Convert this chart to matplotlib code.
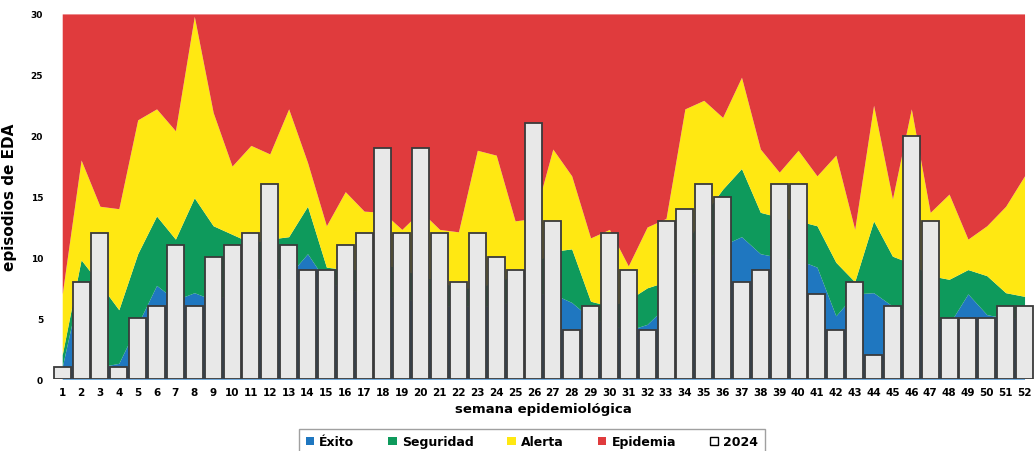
import matplotlib
matplotlib.use("Agg")
import matplotlib.pyplot as plt
from matplotlib.patches import Patch
import numpy as np

weeks = list(range(1, 53))

# Upper limit of each zone of the endemic channel
exito = [1.0, 8.0, 1.0, 1.3, 4.5, 7.7, 6.5, 7.1, 6.5, 7.0, 7.5, 8.0, 8.5, 10.3, 8.0,
         7.5, 7.0, 7.0, 6.5, 6.5, 6.0, 6.0, 6.0, 6.0, 6.5, 7.0, 7.0, 6.3, 5.0, 4.5,
         4.0, 4.5, 6.0, 8.0, 9.5, 11.0, 11.7, 10.3, 10.0, 9.8, 9.2, 5.2, 7.0, 7.1,
         6.0, 5.5, 5.0, 4.5, 7.0, 5.3, 5.0, 5.0]
seguridad = [2.0, 9.8, 7.8, 5.7, 10.3, 13.4, 11.5, 14.9, 12.6, 11.9, 11.2, 11.5, 11.7,
             14.2, 9.2, 9.0, 9.0, 9.5, 9.0, 8.5, 8.0, 7.5, 7.5, 8.0, 8.5, 9.5, 10.5,
             10.7, 6.4, 6.0, 6.5, 7.5, 8.0, 11.0, 13.5, 15.6, 17.3, 13.7, 13.3, 13.0,
             12.6, 9.6, 8.0, 13.0, 10.1, 9.5, 8.5, 8.2, 9.0, 8.5, 7.1, 6.8]
alerta = [7.0, 18.0, 14.2, 14.0, 21.3, 22.2, 20.4, 29.8, 21.9, 17.5, 19.2, 18.5, 22.2,
          17.8, 12.6, 15.4, 13.8, 13.7, 12.3, 13.8, 12.3, 12.1, 18.8, 18.4, 13.0, 13.2,
          18.9, 16.7, 11.6, 12.3, 9.3, 12.5, 13.2, 22.2, 22.9, 21.5, 24.8, 18.9, 17.0,
          18.8, 16.7, 18.4, 12.3, 22.5, 14.8, 22.2, 13.7, 15.2, 11.5, 12.6, 14.2, 16.7]
epidemia_top = 30

casos_2024 = [1, 8, 12, 1, 5, 6, 11, 6, 10, 11, 12, 16, 11, 9, 9, 11, 12, 19, 12, 19,
              12, 8, 12, 10, 9, 21, 13, 4, 6, 12, 9, 4, 13, 14, 16, 15, 8, 9, 16, 16,
              7, 4, 8, 2, 6, 20, 13, 5, 5, 5, 6, 6]

c_exito = "#1F77C0"
c_seg = "#0E9A5C"
c_alerta = "#FFE812"
c_epi = "#E03B3D"

fig = plt.figure(figsize=(10.35, 4.52), dpi=100)
ax = fig.add_axes([0.051, 0.159, 0.948, 0.808])

w = np.array(weeks)
ax.fill_between(w, 0, exito, color=c_exito, lw=0)
ax.fill_between(w, exito, seguridad, color=c_seg, lw=0)
ax.fill_between(w, seguridad, alerta, color=c_alerta, lw=0)
ax.fill_between(w, alerta, epidemia_top, color=c_epi, lw=0)

ax.bar(w, casos_2024, width=0.9, color="#E8E8E8", edgecolor="#3A3A3A", linewidth=1.3, zorder=3)

ax.set_xlim(0.5, 52.5)
ax.set_ylim(0, 30)
ax.set_yticks([0, 5, 10, 15, 20, 25, 30])
ax.set_xticks(weeks)
ax.tick_params(length=0, labelsize=7)
for lab in ax.get_xticklabels() + ax.get_yticklabels():
    lab.set_fontweight("bold")
ax.tick_params(axis="y", pad=7, labelsize=6.5)
ax.tick_params(axis="x", pad=6, labelsize=7.5)
for s in ax.spines.values():
    s.set_visible(False)

ax.set_ylabel("episodios de EDA", fontsize=11, fontweight="bold", labelpad=10)
ax.set_xlabel("semana epidemiológica", fontsize=9.5, fontweight="bold", labelpad=3)

handles = [Patch(facecolor=c_exito, label="Éxito"),
           Patch(facecolor=c_seg, label="Seguridad"),
           Patch(facecolor=c_alerta, label="Alerta"),
           Patch(facecolor=c_epi, label="Epidemia"),
           Patch(facecolor="white", edgecolor="black", label="2024")]
leg = fig.legend(handles=handles, loc="upper center", bbox_to_anchor=(0.514, 0.062),
                 ncol=5, frameon=True, fancybox=False, edgecolor="#888888",
                 prop={"weight": "bold", "size": 9}, handlelength=0.7, handleheight=0.7,
                 columnspacing=2.7, handletextpad=0.4, borderpad=0.5)

fig.savefig("out.png", dpi=100)
